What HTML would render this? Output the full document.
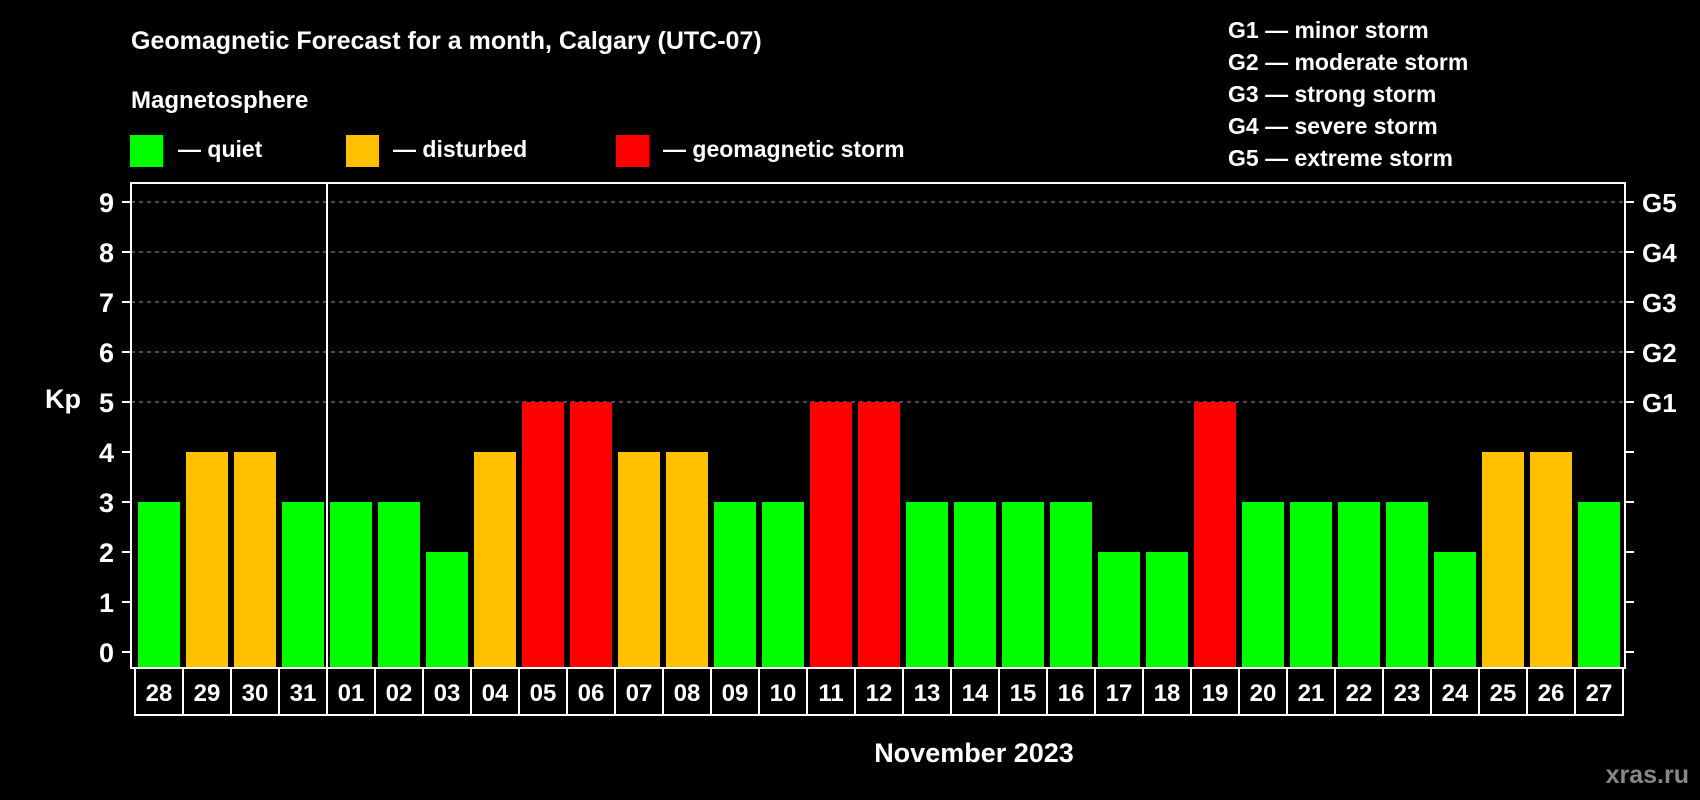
<!DOCTYPE html>
<html><head><meta charset="utf-8"><style>
html,body{margin:0;padding:0;background:#000;}
svg{display:block;font-family:"Liberation Sans",Arial,sans-serif;font-weight:bold;}
</style></head><body>
<svg id="chart" width="1700" height="800" viewBox="0 0 1700 800">
<rect width="1700" height="800" fill="#000"/>
<text x="131" y="49" fill="#fff" font-size="25">Geomagnetic Forecast for a month, Calgary (UTC-07)</text>
<text x="131" y="108" fill="#fff" font-size="24">Magnetosphere</text>
<g>
<rect x="130" y="135" width="33" height="32" fill="#00ff00"/>
<text x="178" y="157" fill="#fff" font-size="23">— quiet</text></g>
<g>
<rect x="346" y="135" width="33" height="32" fill="#ffc000"/>
<text x="393" y="157" fill="#fff" font-size="23">— disturbed</text></g>
<g>
<rect x="616" y="135" width="33" height="32" fill="#ff0000"/>
<text x="663" y="157" fill="#fff" font-size="23">— geomagnetic storm</text></g>
<g fill="#fff" font-size="23">
<text x="1228" y="38">G1 — minor storm</text>
<text x="1228" y="70">G2 — moderate storm</text>
<text x="1228" y="102">G3 — strong storm</text>
<text x="1228" y="134">G4 — severe storm</text>
<text x="1228" y="166">G5 — extreme storm</text>
</g>
<text x="63" y="408" fill="#fff" font-size="27" text-anchor="middle">Kp</text>
<text x="974" y="762" fill="#fff" font-size="27" text-anchor="middle">November 2023</text>
<text x="1689" y="783" fill="#888" font-size="25" text-anchor="end">xras.ru</text>
<g id="grid"></g><g id="bars"></g><g id="axes"></g><g id="labels"></g>
</svg>
<script>
const days=["28","29","30","31","01","02","03","04","05","06","07","08","09","10","11","12","13","14","15","16","17","18","19","20","21","22","23","24","25","26","27"];
const kpValues=[3,4,4,3,3,3,2,4,5,5,4,4,3,3,5,5,3,3,3,3,2,2,5,3,3,3,3,2,4,4,3];
const yTicks=[0,1,2,3,4,5,6,7,8,9];
const gLabels=["G1","G2","G3","G4","G5"];
const gLevels=[5,6,7,8,9];
const NS="http://www.w3.org/2000/svg";
const plotL=131,plotR=1625,plotT=183,plotB=668;
const y=v=>652-v*50;
const xL=i=>138+i*48;
const barW=42;
function mk(tag,attrs,parent){const e=document.createElementNS(NS,tag);for(const k in attrs)e.setAttribute(k,attrs[k]);parent.appendChild(e);return e;}
const grid=document.getElementById('grid'),bars=document.getElementById('bars'),axes=document.getElementById('axes'),labels=document.getElementById('labels');
gLevels.forEach(v=>{const l=mk('line',{x1:plotL,x2:plotR,y1:y(v),y2:y(v),stroke:'#999','stroke-width':1,'stroke-dasharray':'4,4'},grid);

});
kpValues.forEach((v,i)=>{const c=v>=5?'#ff0000':(v>=4?'#ffc000':'#00ff00');
const r=mk('rect',{x:xL(i),y:y(v),width:barW,height:plotB-y(v),fill:c},bars);

});
const box=mk('rect',{x:plotL,y:plotT,width:plotR-plotL,height:plotB-plotT,fill:'none',stroke:'#fff','stroke-width':2},axes);


const div=mk('line',{x1:xL(4)-3,x2:xL(4)-3,y1:plotT,y2:plotB,stroke:'#fff','stroke-width':2},axes);


yTicks.forEach(v=>{mk('line',{x1:plotL-9,x2:plotL,y1:y(v),y2:y(v),stroke:'#fff','stroke-width':2},axes);
mk('line',{x1:plotR,x2:plotR+9,y1:y(v),y2:y(v),stroke:'#fff','stroke-width':2},axes);
const t=mk('text',{x:114,y:y(v)+10,fill:'#fff','font-size':27,'text-anchor':'end'},labels);t.textContent=v;

});
gLevels.forEach((v,i)=>{const t=mk('text',{x:1642,y:y(v)+10,fill:'#fff','font-size':26},labels);t.textContent=gLabels[i];

});
const lb=mk('g',{},labels);


mk('line',{x1:135,x2:135+31*48,y1:715,y2:715,stroke:'#fff','stroke-width':2},lb);
for(let k=0;k<=31;k++){mk('line',{x1:135+k*48,x2:135+k*48,y1:669,y2:716,stroke:'#fff','stroke-width':2},lb);}
days.forEach((d,i)=>{const t=mk('text',{x:xL(i)+barW/2,y:701,fill:'#fff','font-size':24,'text-anchor':'middle'},lb);t.textContent=d;

});
</script>
</body></html>
